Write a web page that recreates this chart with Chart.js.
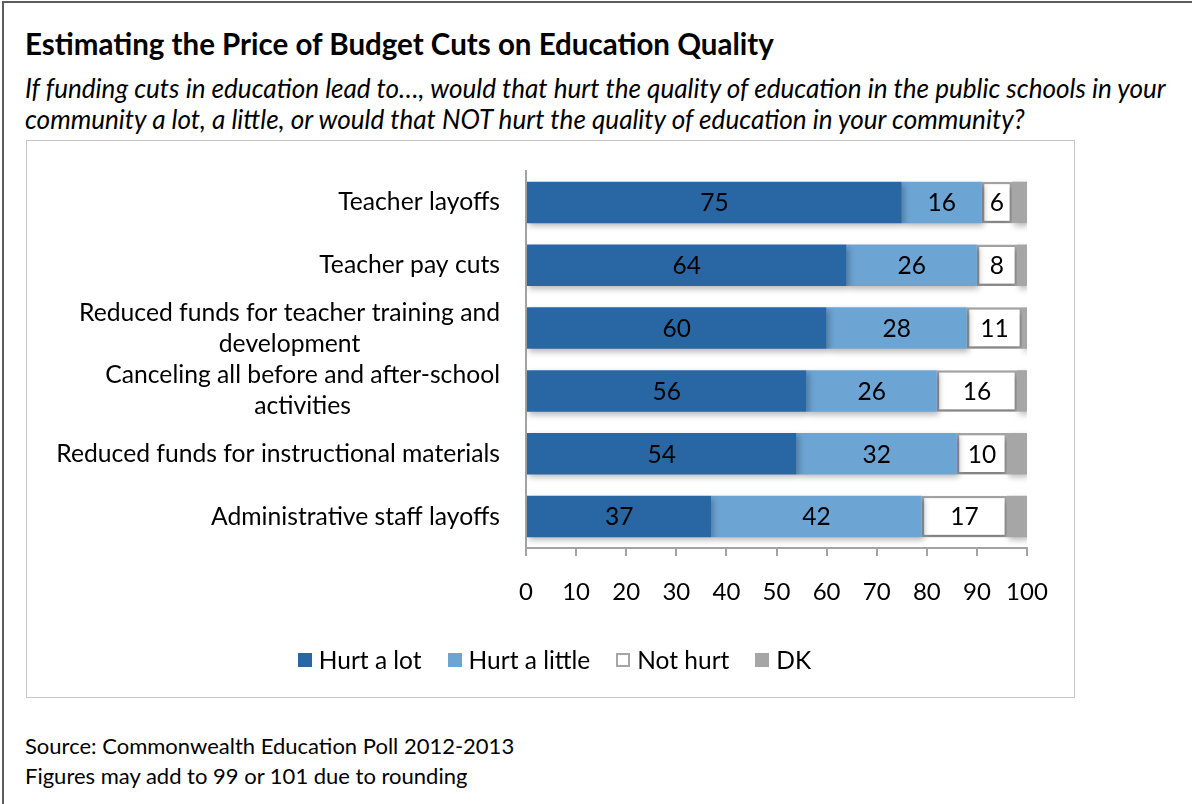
<!DOCTYPE html>
<html>
<head>
<meta charset="utf-8">
<title>Estimating the Price of Budget Cuts on Education Quality</title>
<script src="https://cdn.jsdelivr.net/npm/chart.js@4.4.1/dist/chart.umd.min.js"></script>
<style>
  html, body { margin: 0; padding: 0; width: 1192px; height: 804px; overflow: hidden; background: #fff; }
  body { font-family: Lato, "Open Sans", sans-serif; color: #000; position: relative; }
  #frame { position: absolute; left: 2px; top: 1px; width: 1400px; height: 1000px; border: 2px solid #5c5c5c; box-sizing: border-box; }
  #title { position: absolute; left: 25px; top: 26px; font-weight: bold; font-size: 29.5px; line-height: 36px; white-space: nowrap; }
  #subtitle { position: absolute; left: 25px; top: 73px; font-style: italic; font-size: 26.1px; line-height: 31px; white-space: nowrap; }
  #box { position: absolute; left: 26px; top: 140px; width: 1049px; height: 558px; border: 1px solid #c6c6c6; box-sizing: border-box; }
  #wrap { position: absolute; left: 0; top: 0; width: 1047px; height: 556px; }
  #legend { position: absolute; left: 4px; width: 1047px; top: 504px; display: flex; justify-content: center; font-size: 24.5px; line-height: 30px; }
  .item { display: flex; align-items: center; margin: 0 13px; }
  .swatch { width: 14px; height: 14px; margin-right: 7px; box-sizing: border-box; }
  #notes { position: absolute; left: 25px; top: 731px; font-size: 22px; line-height: 30px; white-space: nowrap; }
</style>
</head>
<body>
<div id="frame"></div>
<div id="title">Estimating the Price of Budget Cuts on Education Quality</div>
<div id="subtitle">If funding cuts in education lead to…, would that hurt the quality of education in the public schools in your<br>community a lot, a little, or would that NOT hurt the quality of education in your community?</div>
<div id="box">
  <div id="wrap"><canvas id="chart"></canvas></div>
  <div id="legend"></div>
</div>
<div id="notes">Source: Commonwealth Education Poll 2012-2013<br>Figures may add to 99 or 101 due to rounding</div>

<script>
// Survey items (multi-line labels are given as arrays of lines)
const categories = [
  "Teacher layoffs",
  "Teacher pay cuts",
  ["Reduced funds for teacher training and", "development"],
  ["Canceling all before and after-school", "activities"],
  "Reduced funds for instructional materials",
  "Administrative staff layoffs"
];

// Percent of respondents per answer
const hurtALot    = [75, 64, 60, 56, 54, 37];
const hurtALittle = [16, 26, 28, 26, 32, 42];
const notHurt     = [6, 8, 11, 16, 10, 17];
const dontKnow    = [3, 2, 1, 2, 4, 4];

const seriesNames = ["Hurt a lot", "Hurt a little", "Not hurt", "DK"];
const xTicks = [0, 10, 20, 30, 40, 50, 60, 70, 80, 90, 100];

const FONT = "Lato, 'Open Sans', sans-serif";
const COLORS = {
  lot: "#2867a3",
  little: "#6ca4d4",
  notFill: "#ffffff",
  notBorder: "#a6a6a6",
  dk: "#a6a6a6",
  axis: "#a3a3a3"
};

const datasets = [
  { label: seriesNames[0], data: hurtALot,    backgroundColor: COLORS.lot,    borderWidth: 0, showValue: true },
  { label: seriesNames[1], data: hurtALittle, backgroundColor: COLORS.little, borderWidth: 0, showValue: true },
  { label: seriesNames[2], data: notHurt,     backgroundColor: COLORS.notFill, borderColor: COLORS.notBorder, borderWidth: 2.5, borderSkipped: false, showValue: true },
  { label: seriesNames[3], data: dontKnow,    backgroundColor: COLORS.dk,     borderWidth: 0, showValue: false }
];

// Soft drop shadow under the bar segments
const barShadow = {
  id: "barShadow",
  beforeDatasetsDraw(chart) {
    const ctx = chart.ctx;
    ctx.save();
    ctx.shadowColor = "rgba(0,0,0,0.28)";
    ctx.shadowBlur = 6;
    ctx.shadowOffsetX = 2;
    ctx.shadowOffsetY = 3;
  },
  afterDatasetsDraw(chart) {
    chart.ctx.restore();
  }
};

// Value labels centred in each segment
const segmentValues = {
  id: "segmentValues",
  afterDatasetsDraw(chart) {
    const ctx = chart.ctx;
    ctx.save();
    ctx.font = "24.5px " + FONT;
    ctx.fillStyle = "#000";
    ctx.textAlign = "center";
    ctx.textBaseline = "middle";
    chart.data.datasets.forEach((ds, i) => {
      if (!ds.showValue) return;
      chart.getDatasetMeta(i).data.forEach((bar, j) => {
        const x = (bar.x + bar.base) / 2;
        ctx.fillText(String(ds.data[j]), x, bar.y + 1);
      });
    });
    ctx.restore();
  }
};

// Category labels: block right-aligned to the axis, lines centred within the block
const categoryLabels = {
  id: "categoryLabels",
  afterDraw(chart) {
    const ctx = chart.ctx;
    const yScale = chart.scales.y;
    const right = chart.chartArea.left - 26;
    const lineGap = 31;
    ctx.save();
    ctx.font = "24.7px " + FONT;
    ctx.fillStyle = "#000";
    ctx.textAlign = "center";
    ctx.textBaseline = "middle";
    categories.forEach((label, i) => {
      const lines = Array.isArray(label) ? label : [label];
      const width = Math.max(...lines.map(l => ctx.measureText(l).width));
      const cx = right - width / 2;
      const yc = yScale.getPixelForValue(i);
      lines.forEach((line, k) => {
        const y = yc + (k - (lines.length - 1) / 2) * lineGap;
        ctx.fillText(line, cx, y);
      });
    });
    ctx.restore();
  }
};

const chart = new Chart(document.getElementById("chart"), {
  type: "bar",
  data: { labels: categories, datasets },
  options: {
    indexAxis: "y",
    responsive: true,
    maintainAspectRatio: false,
    animation: false,
    layout: { padding: { left: 0, right: 47, top: 30, bottom: 49 } },
    datasets: { bar: { categoryPercentage: 1, barPercentage: 0.66 } },
    scales: {
      x: {
        stacked: true,
        min: 0,
        max: 100,
        afterBuildTicks(scale) { scale.ticks = xTicks.map(v => ({ value: v })); },
        afterFit(scale) { scale.height = 100; },
        grid: { display: true, drawOnChartArea: false, drawTicks: true, tickLength: 8, color: COLORS.axis, lineWidth: 2 },
        border: { display: true, color: COLORS.axis, width: 2 },
        ticks: { color: "#000", font: { family: FONT, size: 24 }, padding: 22, maxRotation: 0 }
      },
      y: {
        stacked: true,
        afterFit(scale) { scale.width = 499; },
        grid: { display: false },
        border: { display: true, color: COLORS.axis, width: 2 },
        ticks: { display: false }
      }
    },
    plugins: {
      legend: { display: false },
      tooltip: { enabled: false }
    }
  },
  plugins: [barShadow, segmentValues, categoryLabels]
});

// Legend built from the dataset styles
const legend = document.getElementById("legend");
datasets.forEach(ds => {
  const item = document.createElement("div");
  item.className = "item";
  const sw = document.createElement("span");
  sw.className = "swatch";
  sw.style.background = ds.backgroundColor;
  if (ds.borderWidth) sw.style.border = "2px solid " + ds.borderColor;
  const txt = document.createElement("span");
  txt.textContent = ds.label;
  item.appendChild(sw);
  item.appendChild(txt);
  legend.appendChild(item);
});
</script>
</body>
</html>
